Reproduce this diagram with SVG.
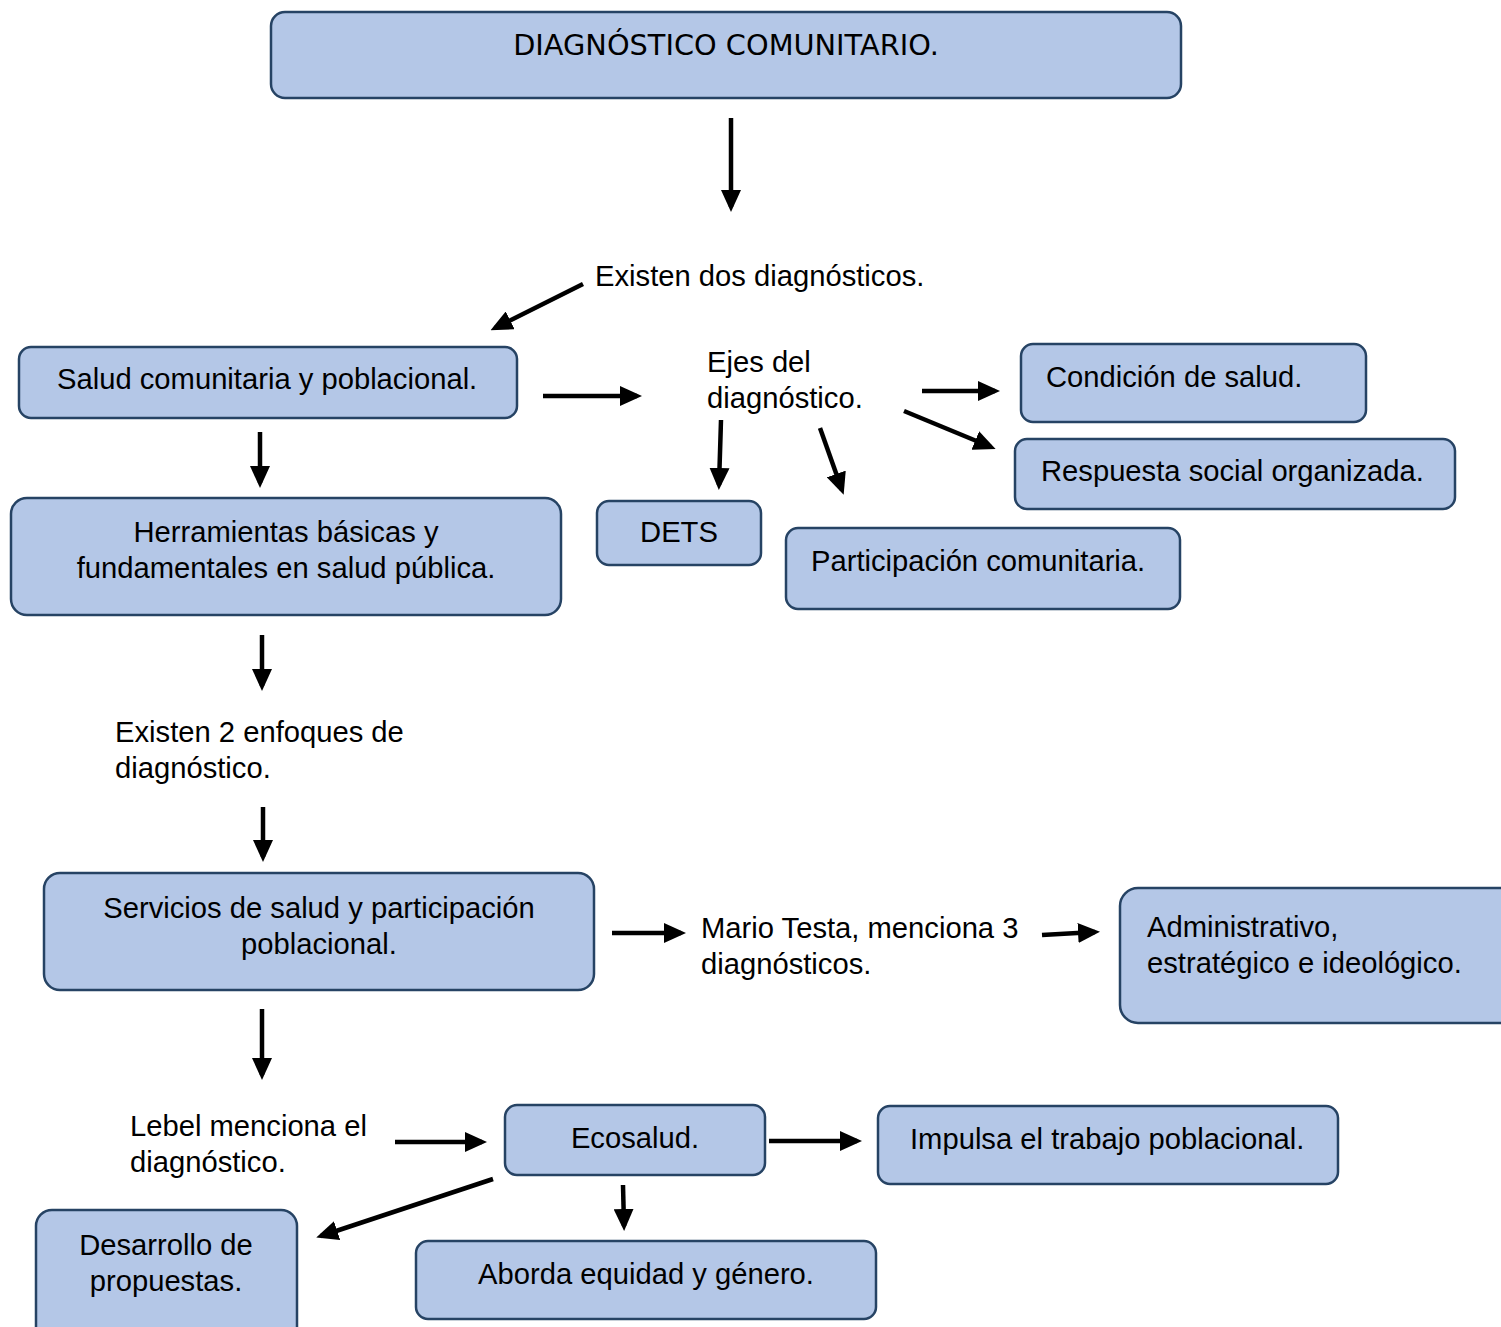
<svg xmlns="http://www.w3.org/2000/svg" width="1501" height="1327" viewBox="0 0 1501 1327">
<style>
.box{fill:#B4C7E7;stroke:#264364;stroke-width:2.5}
.t{font-family:"Liberation Sans",Arial,sans-serif;font-size:29.2px;fill:#000}
.c{text-anchor:middle}
.ttl{font-family:"DejaVu Sans","Open Sans",sans-serif;font-size:28.8px;fill:#000;text-anchor:middle}
.a{stroke:#000;stroke-width:4.5;fill:none;marker-end:url(#ah)}
</style>
<defs>
<marker id="ah" markerUnits="userSpaceOnUse" markerWidth="22" markerHeight="20" refX="17" refY="10" orient="auto" viewBox="0 0 22 20">
<path d="M0,0 L22,10 L0,20 z" fill="#000"/>
</marker>
</defs>
<rect width="1501" height="1327" fill="#fff"/>
<g id="connectors">
<line class="a" x1="731" y1="118" x2="731" y2="207"/>
<line class="a" x1="583" y1="284" x2="495" y2="328"/>
<line class="a" x1="543" y1="396" x2="637" y2="396"/>
<line class="a" x1="922" y1="391" x2="995" y2="391"/>
<line class="a" x1="904" y1="411" x2="991" y2="447"/>
<line class="a" x1="721" y1="420" x2="719" y2="485"/>
<line class="a" x1="820" y1="428" x2="842" y2="490"/>
<line class="a" x1="260" y1="432" x2="260" y2="483"/>
<line class="a" x1="262" y1="635" x2="262" y2="686"/>
<line class="a" x1="263" y1="807" x2="263" y2="857"/>
<line class="a" x1="612" y1="933" x2="681" y2="933"/>
<line class="a" x1="1042" y1="935" x2="1095" y2="932"/>
<line class="a" x1="262" y1="1009" x2="262" y2="1075"/>
<line class="a" x1="395" y1="1142" x2="482" y2="1142"/>
<line class="a" x1="769" y1="1141" x2="857" y2="1141"/>
<line class="a" x1="493" y1="1179" x2="321" y2="1236"/>
<line class="a" x1="623" y1="1185" x2="624" y2="1226"/>
</g>
<g id="n-title"><rect class="box" x="271" y="12" width="910" height="86" rx="14"/><text class="ttl" x="726" y="55">DIAGNÓSTICO COMUNITARIO.</text></g>
<g id="n-existen"><text class="t" x="595" y="286">Existen dos diagnósticos.</text></g>
<g id="n-salud"><rect class="box" x="19" y="347" width="498" height="71" rx="12"/><text class="t" x="57" y="389">Salud comunitaria y poblacional.</text></g>
<g id="n-ejes"><text class="t" x="707" y="372">Ejes del</text><text class="t" x="707" y="408">diagnóstico.</text></g>
<g id="n-condicion"><rect class="box" x="1021" y="344" width="345" height="78" rx="12"/><text class="t" x="1046" y="387">Condición de salud.</text></g>
<g id="n-respuesta"><rect class="box" x="1015" y="439" width="440" height="70" rx="12"/><text class="t" x="1041" y="481">Respuesta social organizada.</text></g>
<g id="n-dets"><rect class="box" x="597" y="501" width="164" height="64" rx="12"/><text class="t c" x="679" y="542">DETS</text></g>
<g id="n-participacion"><rect class="box" x="786" y="528" width="394" height="81" rx="12"/><text class="t" x="811" y="571">Participación comunitaria.</text></g>
<g id="n-herramientas"><rect class="box" x="11" y="498" width="550" height="117" rx="16"/><text class="t c" x="286" y="542">Herramientas básicas y</text><text class="t c" x="286" y="578">fundamentales en salud pública.</text></g>
<g id="n-enfoques"><text class="t" x="115" y="742">Existen 2 enfoques de</text><text class="t" x="115" y="778">diagnóstico.</text></g>
<g id="n-servicios"><rect class="box" x="44" y="873" width="550" height="117" rx="16"/><text class="t c" x="319" y="918">Servicios de salud y participación</text><text class="t c" x="319" y="954">poblacional.</text></g>
<g id="n-testa"><text class="t" x="701" y="938">Mario Testa, menciona 3</text><text class="t" x="701" y="974">diagnósticos.</text></g>
<g id="n-administrativo"><rect class="box" x="1120" y="888" width="400" height="135" rx="18"/><text class="t" x="1147" y="937">Administrativo,</text><text class="t" x="1147" y="973">estratégico e ideológico.</text></g>
<g id="n-lebel"><text class="t" x="130" y="1136">Lebel menciona el</text><text class="t" x="130" y="1172">diagnóstico.</text></g>
<g id="n-ecosalud"><rect class="box" x="505" y="1105" width="260" height="70" rx="12"/><text class="t c" x="635" y="1148">Ecosalud.</text></g>
<g id="n-impulsa"><rect class="box" x="878" y="1106" width="460" height="78" rx="12"/><text class="t" x="910" y="1149">Impulsa el trabajo poblacional.</text></g>
<g id="n-desarrollo"><rect class="box" x="36" y="1210" width="261" height="140" rx="16"/><text class="t c" x="166" y="1255">Desarrollo de</text><text class="t c" x="166" y="1291">propuestas.</text></g>
<g id="n-aborda"><rect class="box" x="416" y="1241" width="460" height="78" rx="12"/><text class="t c" x="646" y="1284">Aborda equidad y género.</text></g>
</svg>
